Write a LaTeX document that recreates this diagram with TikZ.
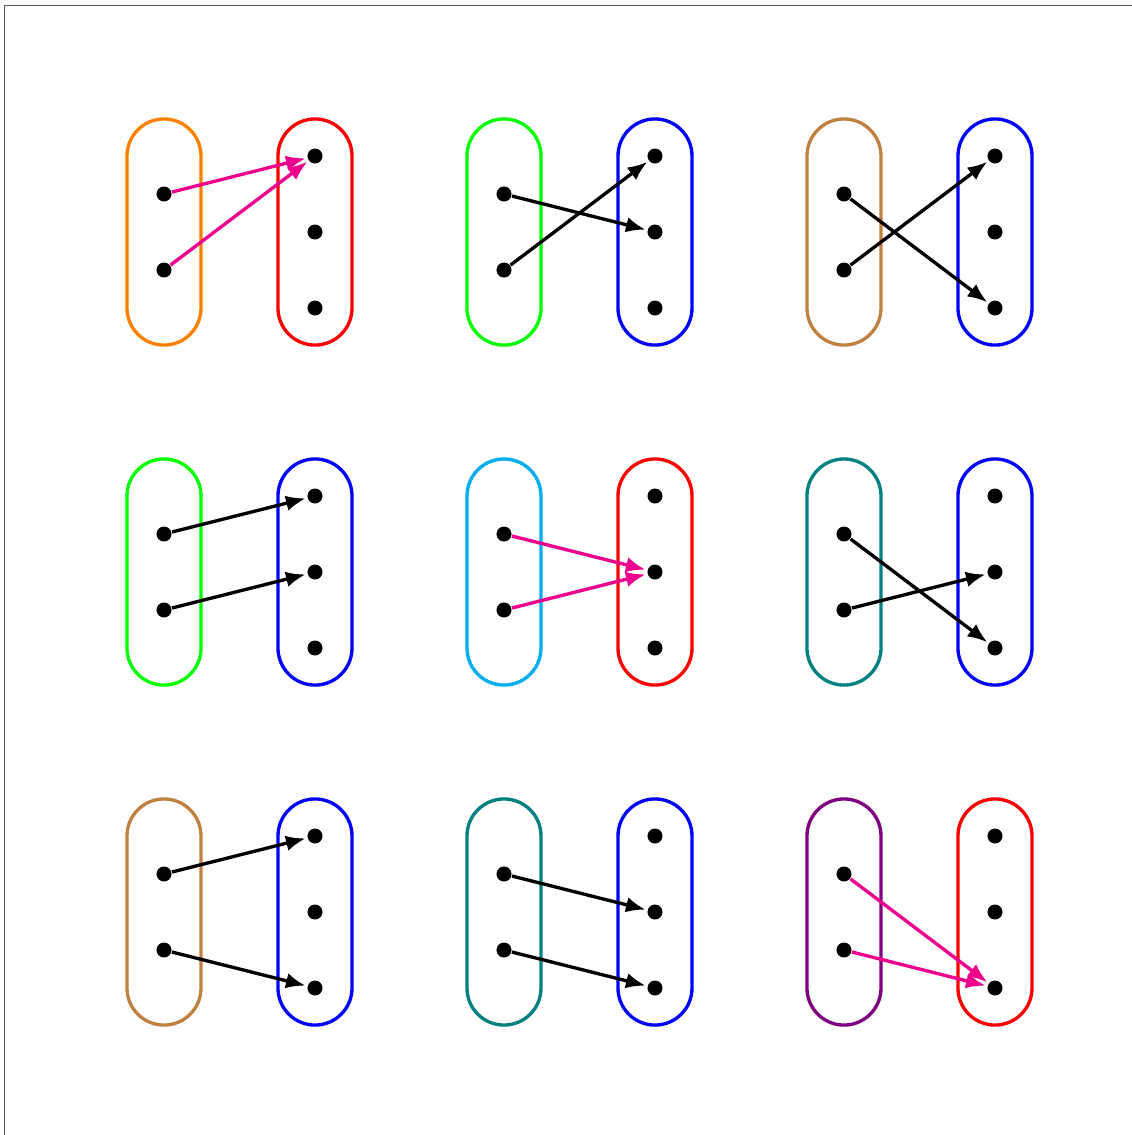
\documentclass[tikz,border=0pt]{standalone}
\usepackage{xcolor}
\usepackage{tikz}
\usetikzlibrary{arrows.meta}

\definecolor{setorange}{RGB}{255,128,0}
\definecolor{setgreen}{RGB}{0,255,0}
\definecolor{setbrown}{RGB}{191,128,64}
\definecolor{setcyan}{RGB}{0,174,239}
\definecolor{setteal}{RGB}{0,128,128}
\definecolor{setpurple}{RGB}{128,0,128}
\definecolor{mapmagenta}{RGB}{236,0,140}

\begin{document}
\begin{tikzpicture}[
    x=0.01cm, y=-0.01cm,
    capsule/.style={draw, line width=0.95pt, rounded corners=0.37cm, minimum width=0.74cm, minimum height=2.26cm},
    elem/.style={circle, fill=black, inner sep=0pt, minimum size=0.15cm},
    maparrow/.style={-{Latex[length=5.6pt, width=4.4pt]}, line width=0.95pt, shorten >=0.4pt}
]
\useasboundingbox (0,0) rectangle (1132,1135);
\draw[black!65, line width=0.45pt] (4.5,1135) -- (4.5,5.5) -- (1132,5.5);

% one panel for each map from a 2-set into a 3-set
\foreach \X/\Y/\cl/\cr/\ca/\s/\t [count=\n] in {
    164/118/setorange/red/mapmagenta/1/1,
    504/118/setgreen/blue/black/2/1,
    844/118/setbrown/blue/black/3/1,
    164/458/setgreen/blue/black/1/2,
    504/458/setcyan/red/mapmagenta/2/2,
    844/458/setteal/blue/black/3/2,
    164/798/setbrown/blue/black/1/3,
    504/798/setteal/blue/black/2/3,
    844/798/setpurple/red/mapmagenta/3/3}{
  \node[capsule, draw=\cl] (dom\n) at (\X,\Y+114) {};
  \node[capsule, draw=\cr] (cod\n) at (\X+151,\Y+114) {};
  \node[elem] (p\n a) at (\X,\Y+76) {};
  \node[elem] (p\n b) at (\X,\Y+152) {};
  \node[elem] (p\n r1) at (\X+151,\Y+38) {};
  \node[elem] (p\n r2) at (\X+151,\Y+114) {};
  \node[elem] (p\n r3) at (\X+151,\Y+190) {};
  \draw[maparrow, \ca] (p\n a) -- (p\n r\s);
  \draw[maparrow, \ca] (p\n b) -- (p\n r\t);
}
\end{tikzpicture}
\end{document}
